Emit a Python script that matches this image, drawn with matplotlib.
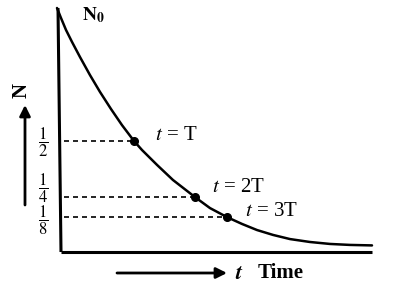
import matplotlib
matplotlib.use("Agg")
import matplotlib.pyplot as plt

plt.rcParams['mathtext.fontset'] = 'stix'
SERIF = 'Liberation Serif'

# ---- data (time in arbitrary drawing units, N as fraction of N0) ----
curve_t = [-1, 3, 8, 14, 22, 32, 42, 53, 64, 76, 84, 99, 115, 137, 152,
           169, 184, 199, 215, 232, 252, 272, 292, 314]
curve_N = [1.000, 0.959, 0.910, 0.861, 0.799, 0.725, 0.656, 0.586, 0.520,
           0.455, 0.418, 0.357, 0.295, 0.225, 0.180, 0.143, 0.115, 0.090,
           0.070, 0.053, 0.041, 0.033, 0.029, 0.027]
mark_t = [76, 137, 169]
mark_N = [0.455, 0.225, 0.143]
mark_labels = [r"$t$ = T", r"$t$ = 2T", r"$t$ = 3T"]
frac_labels = [r"$\dfrac{1}{2}$", r"$\dfrac{1}{4}$", r"$\dfrac{1}{8}$"]

# ---- layout helpers (pixel -> data) ----
X0, Y0, YS = 58.0, 252.0, 244.0
def P(px, py):
    return px - X0, (Y0 - py) / YS

fig = plt.figure(figsize=(4, 3), dpi=100)
ax = fig.add_axes([0, 0, 1, 1])
ax.set_xlim(-X0, 400 - X0)
ax.set_ylim((Y0 - 300) / YS, Y0 / YS)
ax.axis('off')

# axes lines
ax.plot([0, 3], [1.0, 0.0], color='black', lw=2.2, solid_capstyle='butt')
ax.plot([3, 314], [0.0, 0.0], color='black', lw=2.2, solid_capstyle='butt')

# curve
ax.plot(curve_t, curve_N, color='black', lw=1.8, solid_capstyle='round',
        solid_joinstyle='round')

# dashed guides + markers
for t, n in zip(mark_t, mark_N):
    ax.plot([6, t], [n, n], color='black', lw=1.2, linestyle=(0, (3.0, 2.4)))
ax.plot(mark_t, mark_N, 'o', color='black', markersize=5.5)

# point labels
label_pos = [(155, 135), (212, 188), (245, 211)]
for (px, py), s in zip(label_pos, mark_labels):
    x, y = P(px, py)
    ax.text(x, y, s, fontsize=15, family=SERIF, ha='left', va='center')

# fractions
frac_centers = [142, 188, 220]
for py, s in zip(frac_centers, frac_labels):
    x, y = P(43.5, py)
    ax.text(x, y, s, fontsize=12, ha='center', va='center')

# N0 label
x, y = P(82, 15)
ax.text(x, y, r"$\mathbf{N}_{\mathbf{0}}$", fontsize=14, ha='left', va='center')

# vertical N label and arrow
x, y = P(22, 91)
ax.text(x, y, "N", fontsize=15, fontweight='bold', family=SERIF,
        rotation=90, ha='center', va='center')
xa, ya0 = P(25, 205)
_, ya1 = P(25, 105)
ax.annotate('', xy=(xa, ya1), xytext=(xa, ya0),
            arrowprops=dict(arrowstyle='-|>', color='black', lw=2.0,
                            mutation_scale=16, shrinkA=0, shrinkB=0))

# horizontal time arrow and label
xb0, yb = P(117, 273)
xb1, _ = P(227, 273)
ax.annotate('', xy=(xb1, yb), xytext=(xb0, yb),
            arrowprops=dict(arrowstyle='-|>', color='black', lw=2.0,
                            mutation_scale=16, shrinkA=0, shrinkB=0))
x, y = P(235, 273)
ax.text(x, y, r"$\boldsymbol{t}$", fontsize=16, ha='left', va='center')
x, y = P(258, 273)
ax.text(x, y, "Time", fontsize=15, fontweight='bold', family=SERIF,
        ha='left', va='center')

fig.savefig("out.png", dpi=100)
